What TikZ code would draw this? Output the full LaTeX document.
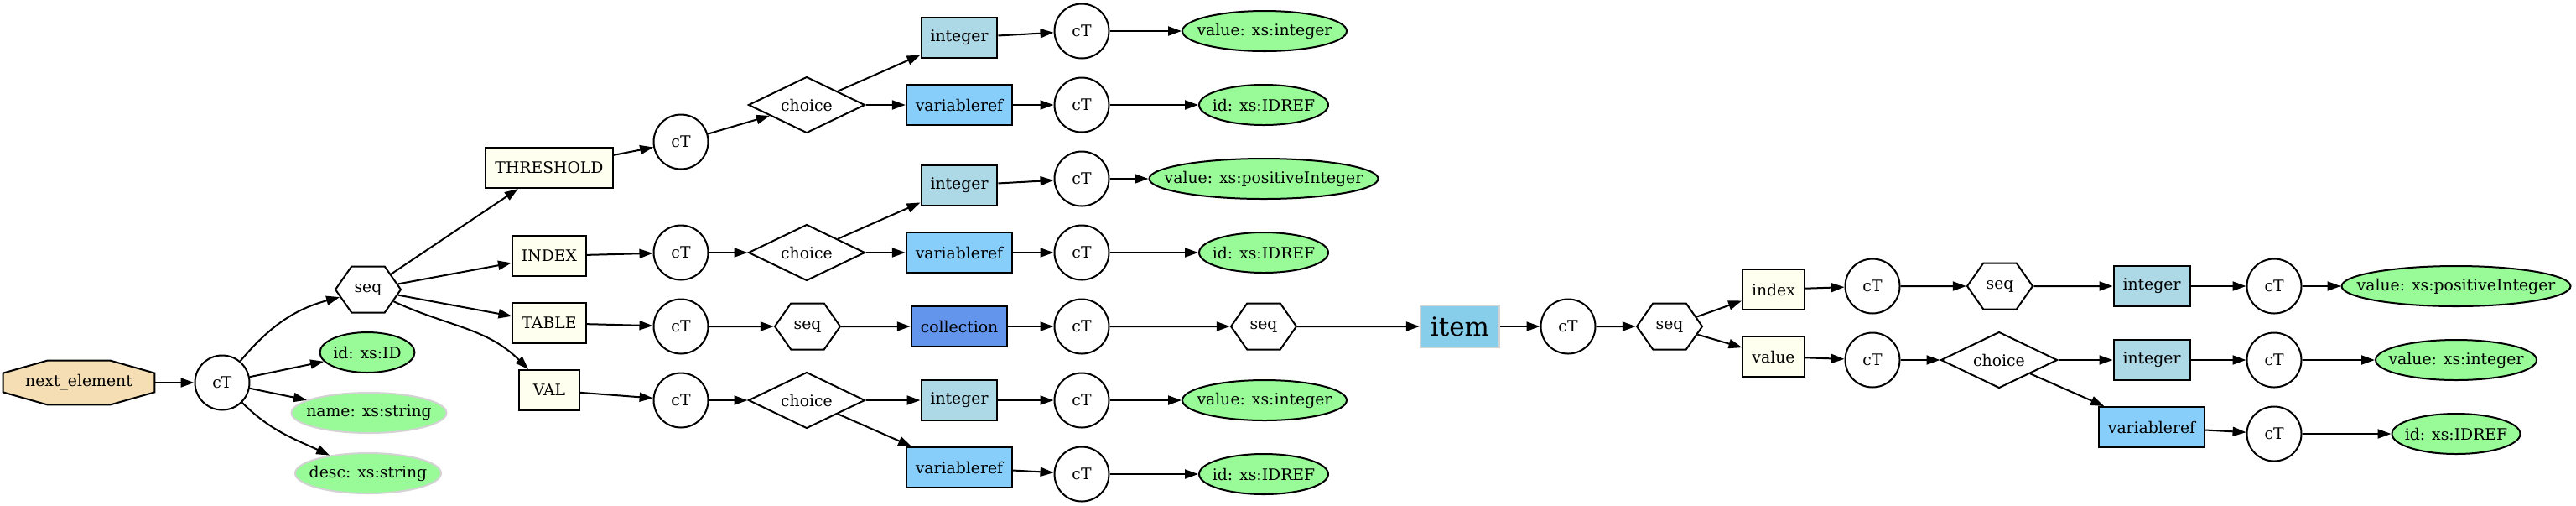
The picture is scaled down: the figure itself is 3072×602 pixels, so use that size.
\documentclass[tikz,border=0pt]{standalone}
\usepackage{fontspec}
\setmainfont{DejaVu Serif}
\usepackage{xcolor}
\usepackage{tikz}
\usetikzlibrary{shapes.geometric, shapes.symbols, arrows.meta, positioning, backgrounds}

\definecolor{wheat}{HTML}{F5DEB3}
\definecolor{ivorybox}{HTML}{FFFFF0}
\definecolor{lightbluebox}{HTML}{ADD8E6}
\definecolor{skybluebox}{HTML}{87CEFA}
\definecolor{cornflower}{HTML}{6495ED}
\definecolor{itemblue}{HTML}{87CEEB}
\definecolor{palegreen}{HTML}{98FB98}
\definecolor{greyline}{HTML}{D3D3D3}
\newcommand{\lbl}[1]{\makebox[0pt]{#1}}

\begin{document}
\begin{tikzpicture}[
    x=0.5pt, y=-0.5pt,
    font=\fontsize{9.4}{11}\selectfont,
    octo/.style={minimum width=90pt, minimum height=26pt, inner sep=0pt},
    ct/.style={circle, draw=black, line width=1pt, fill=white, minimum size=32.5pt, inner sep=0pt},
    seqhex/.style={signal, signal to=east and west, signal pointer angle=110, draw=black, line width=1pt, minimum width=39pt, minimum height=27.5pt, inner sep=0pt},
    choice/.style={diamond, aspect=2, draw=black, line width=1pt, minimum width=69.5pt, minimum height=33.5pt, inner sep=0pt},
    elem/.style={rectangle, draw=black, line width=1pt, fill=ivorybox, minimum width=36pt, minimum height=24pt, inner xsep=5.5pt},
    intbox/.style={elem, fill=lightbluebox},
    varbox/.style={elem, fill=skybluebox},
    collbox/.style={elem, fill=cornflower},
    itembox/.style={rectangle, draw=greyline, line width=1pt, fill=itemblue, minimum width=47pt, minimum height=25pt, inner xsep=6pt, font=\fontsize{15.5}{18}\selectfont},
    attr/.style={ellipse, draw=black, line width=1pt, fill=palegreen, minimum height=24pt, inner sep=0pt},
    optattr/.style={attr, draw=greyline},
    arrow/.style={-{Triangle[length=8pt, width=5.5pt]}, line width=1pt}
]
    \useasboundingbox (0,0) rectangle (3072,602);

    % root
    \node[octo] (ne) at (94,456) {next\_element};
    \begin{scope}[on background layer]
        \draw[line width=1pt, fill=wheat] ([xshift=26.5pt]ne.north west) -- ([xshift=-26.5pt]ne.north east)
            -- ([yshift=-7.5pt]ne.north east) -- ([yshift=7.5pt]ne.south east)
            -- ([xshift=-26.5pt]ne.south east) -- ([xshift=26.5pt]ne.south west)
            -- ([yshift=7.5pt]ne.south west) -- ([yshift=-7.5pt]ne.north west) -- cycle;
    \end{scope}
    \node[ct] (ct0) at (265,456) {cT};
    \node[seqhex] (seqA) at (439,345) {seq};
    \node[attr, minimum width=56.5pt] (idA) at (438,420) {\lbl{id: xs:ID}};
    \node[optattr, minimum width=92.5pt] (nameA) at (440,492) {\lbl{name: xs:string}};
    \node[optattr, minimum width=87pt] (descA) at (439,564) {\lbl{desc: xs:string}};

    % THRESHOLD
    \node[elem] (thr) at (655,200) {THRESHOLD};
    \node[ct] (ctT) at (812,169) {cT};
    \node[choice] (chT) at (962,125) {choice};
    \node[intbox] (intT) at (1144,45) {integer};
    \node[varbox] (varT) at (1144,125) {variableref};
    \node[ct] (ctT1) at (1290,37) {cT};
    \node[ct] (ctT2) at (1290,125) {cT};
    \node[attr, minimum width=98pt] (valT) at (1508,37) {\lbl{value: xs:integer}};
    \node[attr, minimum width=77pt] (idT) at (1507,125) {\lbl{id: xs:IDREF}};

    % INDEX
    \node[elem] (idx) at (655,305) {INDEX};
    \node[ct] (ctI) at (812,301) {cT};
    \node[choice] (chI) at (962,301) {choice};
    \node[intbox] (intI) at (1144,221) {integer};
    \node[varbox] (varI) at (1144,301) {variableref};
    \node[ct] (ctI1) at (1290,213) {cT};
    \node[ct] (ctI2) at (1290,301) {cT};
    \node[attr, minimum width=136.5pt] (posI) at (1507,213) {\lbl{value: xs:positiveInteger}};
    \node[attr, minimum width=77pt] (idI) at (1507,301) {\lbl{id: xs:IDREF}};

    % TABLE
    \node[elem] (tab) at (655,385) {TABLE};
    \node[ct] (ctB) at (812,389) {cT};
    \node[seqhex] (seqB) at (963,389) {seq};
    \node[collbox] (coll) at (1144,389) {collection};
    \node[ct] (ctB1) at (1290,389) {cT};
    \node[seqhex] (seqC) at (1507,389) {seq};
    \node[itembox] (item) at (1741,389) {item};
    \node[ct] (ctC) at (1870,389) {cT};
    \node[seqhex] (seqD) at (1991,389) {seq};
    \node[elem] (idx2) at (2115,345) {index};
    \node[ct] (ctD1) at (2233,341) {cT};
    \node[seqhex] (seqE) at (2385,341) {seq};
    \node[intbox] (intD) at (2566,341) {integer};
    \node[ct] (ctD2) at (2712,341) {cT};
    \node[attr, minimum width=136.5pt] (posD) at (2929,341) {\lbl{value: xs:positiveInteger}};
    \node[elem] (val2) at (2115,425) {value};
    \node[ct] (ctV) at (2233,429) {cT};
    \node[choice] (chV) at (2384,429) {choice};
    \node[intbox] (intV) at (2566,429) {integer};
    \node[ct] (ctV2) at (2712,429) {cT};
    \node[attr, minimum width=96pt] (valV) at (2929,429) {\lbl{value: xs:integer}};
    \node[varbox] (varV) at (2566,509) {variableref};
    \node[ct] (ctV3) at (2712,517) {cT};
    \node[attr, minimum width=76.5pt] (idV) at (2929,517) {\lbl{id: xs:IDREF}};

    % VAL
    \node[elem] (valb) at (655,465) {VAL};
    \node[ct] (ctL) at (812,477) {cT};
    \node[choice] (chL) at (962,477) {choice};
    \node[intbox] (intL) at (1144,477) {integer};
    \node[varbox] (varL) at (1144,557) {variableref};
    \node[ct] (ctL2) at (1290,477) {cT};
    \node[ct] (ctL3) at (1290,565) {cT};
    \node[attr, minimum width=98pt] (valL) at (1508,477) {\lbl{value: xs:integer}};
    \node[attr, minimum width=77pt] (idL) at (1507,565) {\lbl{id: xs:IDREF}};

    \draw[arrow] (ne) -- (ct0);
    \draw[arrow] (ct0) to[out=50, in=195] (seqA);
    \draw[arrow] (ct0) -- (idA);
    \draw[arrow] (ct0) -- (nameA);
    \draw[arrow] (ct0) to[out=-45, in=155] (descA);
    \draw[arrow] (seqA) -- (thr);
    \draw[arrow] (seqA) -- (idx);
    \draw[arrow] (seqA) -- (tab);
    \draw[arrow] (seqA) to[out=-25, in=135] (valb);

    \draw[arrow] (thr) -- (ctT);
    \draw[arrow] (ctT) -- (chT);
    \draw[arrow] (chT) -- (intT);
    \draw[arrow] (chT) -- (varT);
    \draw[arrow] (intT) -- (ctT1);
    \draw[arrow] (varT) -- (ctT2);
    \draw[arrow] (ctT1) -- (valT);
    \draw[arrow] (ctT2) -- (idT);

    \draw[arrow] (idx) -- (ctI);
    \draw[arrow] (ctI) -- (chI);
    \draw[arrow] (chI) -- (intI);
    \draw[arrow] (chI) -- (varI);
    \draw[arrow] (intI) -- (ctI1);
    \draw[arrow] (varI) -- (ctI2);
    \draw[arrow] (ctI1) -- (posI);
    \draw[arrow] (ctI2) -- (idI);

    \draw[arrow] (tab) -- (ctB);
    \draw[arrow] (ctB) -- (seqB);
    \draw[arrow] (seqB) -- (coll);
    \draw[arrow] (coll) -- (ctB1);
    \draw[arrow] (ctB1) -- (seqC);
    \draw[arrow] (seqC) -- (item);
    \draw[arrow] (item) -- (ctC);
    \draw[arrow] (ctC) -- (seqD);
    \draw[arrow] (seqD) -- (idx2);
    \draw[arrow] (seqD) -- (val2);
    \draw[arrow] (idx2) -- (ctD1);
    \draw[arrow] (ctD1) -- (seqE);
    \draw[arrow] (seqE) -- (intD);
    \draw[arrow] (intD) -- (ctD2);
    \draw[arrow] (ctD2) -- (posD);
    \draw[arrow] (val2) -- (ctV);
    \draw[arrow] (ctV) -- (chV);
    \draw[arrow] (chV) -- (intV);
    \draw[arrow] (chV) -- (varV);
    \draw[arrow] (intV) -- (ctV2);
    \draw[arrow] (varV) -- (ctV3);
    \draw[arrow] (ctV2) -- (valV);
    \draw[arrow] (ctV3) -- (idV);

    \draw[arrow] (valb) -- (ctL);
    \draw[arrow] (ctL) -- (chL);
    \draw[arrow] (chL) -- (intL);
    \draw[arrow] (chL) -- (varL);
    \draw[arrow] (intL) -- (ctL2);
    \draw[arrow] (varL) -- (ctL3);
    \draw[arrow] (ctL2) -- (valL);
    \draw[arrow] (ctL3) -- (idL);
\end{tikzpicture}
\end{document}
